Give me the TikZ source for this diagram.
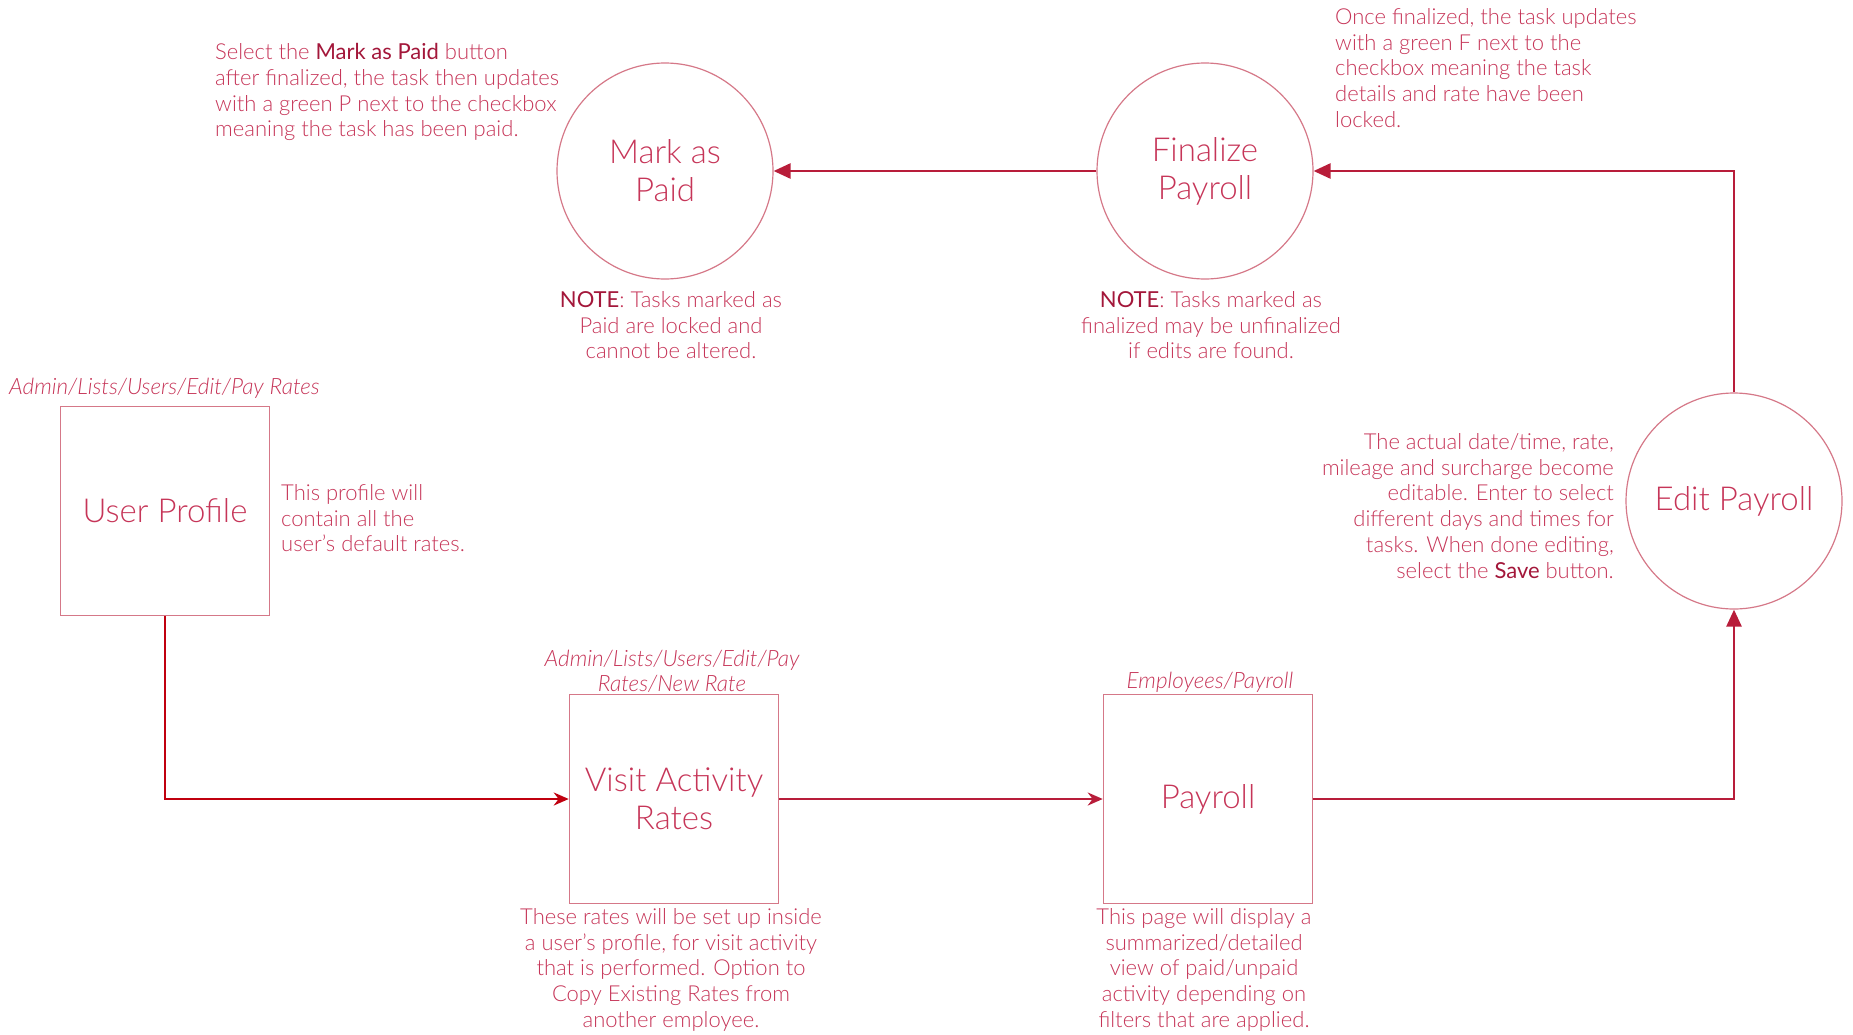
\documentclass[tikz,border=0pt]{standalone}
\usepackage{fontspec}
\setmainfont{Lato}[UprightFont={* Light},ItalicFont={* Light Italic},BoldFont={* Regular},BoldItalicFont={* Italic}]
\usetikzlibrary{arrows.meta}
\definecolor{txt}{HTML}{C63558}
\definecolor{dark}{HTML}{A3173A}
\definecolor{edgec}{HTML}{D57888}
\definecolor{arr}{HTML}{B81D3A}
\definecolor{arrred}{HTML}{C0000F}
\newcommand{\hl}[1]{{\bfseries\color{dark}#1}}
\begin{document}
\begin{tikzpicture}[x=1pt,y=-1pt,
  boxnode/.style={draw=edgec,line width=1.5pt,minimum width=209pt,minimum height=209pt,
    text=txt,align=center,font=\fontsize{33}{38}\selectfont,inner sep=0pt},
  circnode/.style={circle,draw=edgec,line width=1.2pt,minimum size=216pt,
    text=txt,align=center,font=\fontsize{33}{38}\selectfont,inner sep=0pt},
  note/.style={text=txt,font=\fontsize{22}{25.8}\selectfont,inner sep=0pt},
  pathlbl/.style={text=txt,font=\fontsize{22.5}{25}\selectfont\itshape,inner sep=0pt},
  conn/.style={draw=arr,line width=2.6pt,-{Triangle[length=17pt,width=15pt]}},
  connb/.style={draw=arr,line width=2.6pt,-{Stealth[length=15pt,width=13pt]}}
]
\useasboundingbox (0,0) rectangle (1853,1034);

\node[circnode] (paid) at (665,171) {Mark as\\Paid};
\node[circnode] (fin) at (1205,171) {Finalize\\Payroll};
\node[circnode] (edit) at (1734,501) {Edit Payroll};
\node[boxnode] (up) at (165,511) {User Profile};
\node[boxnode] (var) at (674,799) {Visit Activity\\Rates};
\node[boxnode] (pay) at (1208,799) {Payroll};

\draw[connb,draw=arrred] (up.south) |- (var.west);
\draw[connb] (var.east) -- (pay.west);
\draw[conn] (pay.east) -| (edit.south);
\draw[conn] (edit.north) |- (fin.east);
\draw[conn] (fin.west) -- (paid.east);

\node[note,anchor=north west,align=left] (t1) at (215,43) {Select the \hl{Mark as Paid} button\\after finalized, the task then updates\\with a green P next to the checkbox\\meaning the task has been paid.};
\node[note,anchor=north west,align=left] (t2) at (1335,8) {Once finalized, the task updates\\with a green F next to the\\checkbox meaning the task\\details and rate have been\\locked.};
\node[note,anchor=north east,align=right] (t3) at (1614,433) {The actual date/time, rate,\\mileage and surcharge become\\editable. Enter to select\\different days and times for\\tasks. When done editing,\\select the \hl{Save} button.};
\node[note,anchor=north west,align=left] (t4) at (281,484) {This profile will\\contain all the\\user’s default rates.};
\node[note,anchor=north,align=center] (t5) at (671,291) {\hl{NOTE}: Tasks marked as\\Paid are locked and\\cannot be altered.};
\node[note,anchor=north,align=center] (t6) at (1211,291) {\hl{NOTE}: Tasks marked as\\finalized may be unfinalized\\if edits are found.};
\node[note,anchor=north,align=center] (t7) at (671,908) {These rates will be set up inside\\a user’s profile, for visit activity\\that is performed. Option to\\Copy Existing Rates from\\another employee.};
\node[note,anchor=north,align=center] (t8) at (1204,908) {This page will display a\\summarized/detailed\\view of paid/unpaid\\activity depending on\\filters that are applied.};

\node[pathlbl,anchor=west] (p1) at (9,388) {Admin/Lists/Users/Edit/Pay Rates};
\node[pathlbl,anchor=south,align=center] (p2) at (672,693) {Admin/Lists/Users/Edit/Pay\\Rates/New Rate};
\node[pathlbl,anchor=south] (p3) at (1210,693) {Employees/Payroll};
\end{tikzpicture}
\end{document}
